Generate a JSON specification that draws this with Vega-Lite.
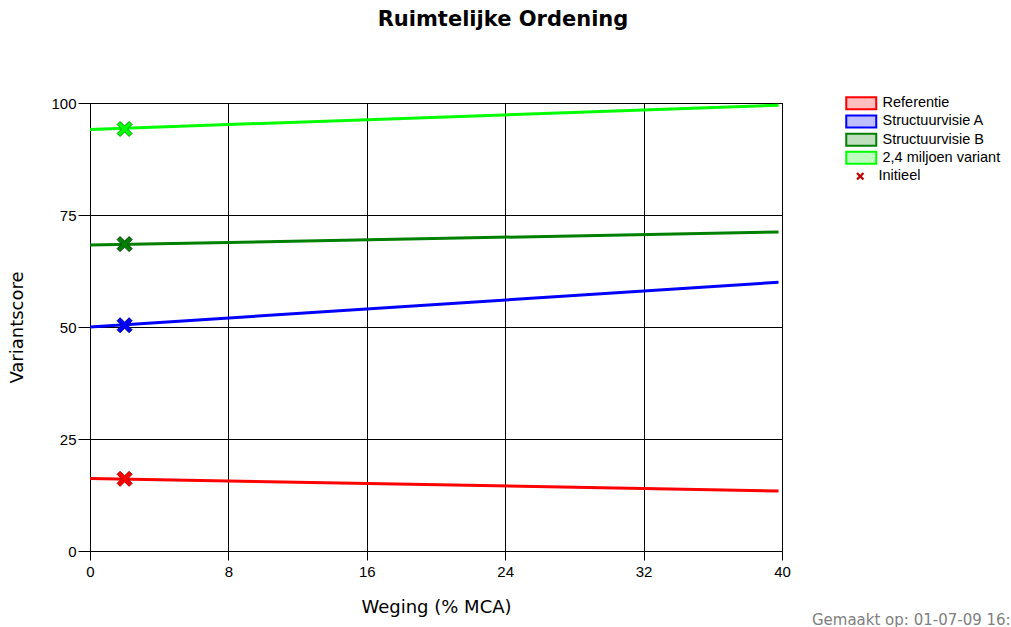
{
  "$schema": "https://vega.github.io/schema/vega-lite/v6.json",
  "autosize": "none",
  "width": 692,
  "height": 448,
  "padding": {"left": 90, "top": 103, "right": 229, "bottom": 76},
  "background": "white",
  "title": {
    "text": "Ruimtelijke Ordening",
    "anchor": "middle",
    "frame": "group",
    "dx": 67,
    "offset": 66,
    "font": "DejaVu Sans",
    "fontSize": 21,
    "fontWeight": "bold",
    "color": "#000000"
  },
  "config": {
    "view": {"stroke": "#000000", "strokeWidth": 1},
    "axis": {
      "domainColor": "#000000",
      "tickColor": "#000000",
      "gridColor": "#000000",
      "gridOpacity": 1,
      "labelColor": "#000000",
      "titleColor": "#000000",
      "labelFont": "Liberation Sans",
      "titleFont": "DejaVu Sans",
      "labelFontSize": 15,
      "titleFontSize": 18,
      "titleFontWeight": "normal"
    }
  },
  "datasets": {
    "lines": [
      {"series": "Referentie", "weging": 0, "score": 16.2},
      {"series": "Referentie", "weging": 39.8, "score": 13.4},
      {"series": "Structuurvisie A", "weging": 0, "score": 50.0},
      {"series": "Structuurvisie A", "weging": 39.8, "score": 60.0},
      {"series": "Structuurvisie B", "weging": 0, "score": 68.3},
      {"series": "Structuurvisie B", "weging": 39.8, "score": 71.2},
      {"series": "2,4 miljoen variant", "weging": 0, "score": 94.1},
      {"series": "2,4 miljoen variant", "weging": 39.8, "score": 99.5}
    ],
    "init": [
      {"series": "Referentie", "weging": 2, "score": 16.1, "marker": "Initieel"},
      {"series": "Structuurvisie A", "weging": 2, "score": 50.4, "marker": "Initieel"},
      {"series": "Structuurvisie B", "weging": 2, "score": 68.5, "marker": "Initieel"},
      {"series": "2,4 miljoen variant", "weging": 2, "score": 94.2, "marker": "Initieel"}
    ],
    "footer": [
      {"weging": 41.73, "score": -16.6, "label": "Gemaakt op: 01-07-09 16:52"}
    ]
  },
  "layer": [
    {
      "data": {"name": "lines"},
      "mark": {"type": "line", "strokeWidth": 3},
      "encoding": {
        "x": {
          "field": "weging", "type": "quantitative",
          "scale": {"domain": [0, 40], "nice": false, "zero": false},
          "axis": {"values": [0, 8, 16, 24, 32, 40], "tickSize": 9, "labelPadding": 4, "labelFlush": false, "title": "Weging (% MCA)", "titlePadding": 19, "grid": true}
        },
        "y": {
          "field": "score", "type": "quantitative",
          "scale": {"domain": [0, 100], "nice": false},
          "axis": {"values": [0, 25, 50, 75, 100], "tickSize": 12, "labelPadding": 2, "labelFlush": false, "title": "Variantscore", "titlePadding": 24, "grid": true}
        },
        "color": {
          "field": "series", "type": "nominal",
          "scale": {
            "domain": ["Referentie", "Structuurvisie A", "Structuurvisie B", "2,4 miljoen variant"],
            "range": ["#ff0000", "#0000ff", "#008000", "#00ff00"]
          },
          "legend": {
            "title": null,
            "orient": "none",
            "legendX": 764,
            "legendY": -7,
            "padding": 0,
            "symbolType": "M-3,-1.2H3V1.2H-3Z",
            "symbolSize": 100,
            "symbolStrokeWidth": 2,
            "labelOffset": 14,
            "labelFont": "Liberation Sans",
            "labelFontSize": 14.5,
            "labelColor": "#000000",
            "rowPadding": -2.8,
            "encode": {
              "symbols": {
                "update": {
                  "fill": {"scale": "color", "field": "value"},
                  "fillOpacity": {"value": 0.25},
                  "stroke": {"scale": "color", "field": "value"},
                  "strokeWidth": {"value": 2}
                }
              }
            }
          }
        }
      }
    },
    {
      "data": {"name": "init"},
      "mark": {"type": "point", "filled": true, "size": 225, "strokeWidth": 1, "opacity": 1},
      "encoding": {
        "x": {"field": "weging", "type": "quantitative"},
        "y": {"field": "score", "type": "quantitative"},
        "color": {"field": "series", "type": "nominal"},
        "stroke": {
          "field": "series", "type": "nominal",
          "scale": {
            "domain": ["Referentie", "Structuurvisie A", "Structuurvisie B", "2,4 miljoen variant"],
            "range": ["#a00000", "#000090", "#004000", "#00a000"]
          },
          "legend": null
        },
        "shape": {
          "field": "marker", "type": "nominal",
          "scale": {"domain": ["Initieel"], "range": ["M-1,-0.6L-0.6,-1L0,-0.4L0.6,-1L1,-0.6L0.4,0L1,0.6L0.6,1L0,0.4L-0.6,1L-1,0.6L-0.4,0Z"]},
          "legend": {
            "title": null,
            "orient": "none",
            "legendX": 763,
            "legendY": 66,
            "padding": 0,
            "symbolSize": 64,
            "symbolStrokeWidth": 0,
            "symbolFillColor": "#c00000",
            "symbolStrokeColor": "#c00000",
            "symbolOpacity": 1,
            "labelOffset": 11,
            "labelFont": "Liberation Sans",
            "labelFontSize": 14.5,
            "labelColor": "#000000",
            "encode": {
              "symbols": {
                "enter": {
                  "fill": {"value": "#c00000"}
                },
                "update": {
                  "fill": {"value": "#c00000"},
                  "stroke": {"value": "#c00000"},
                  "strokeWidth": {"value": 0},
                  "opacity": {"value": 1},
                  "fillOpacity": {"value": 1}
                }
              }
            }
          }
        }
      }
    },
    {
      "data": {"name": "footer"},
      "mark": {"type": "text", "align": "left", "baseline": "alphabetic", "clip": false, "font": "DejaVu Sans", "fontSize": 15, "color": "#808080"},
      "encoding": {
        "x": {"field": "weging", "type": "quantitative"},
        "y": {"field": "score", "type": "quantitative"},
        "text": {"field": "label"}
      }
    }
  ]
}
